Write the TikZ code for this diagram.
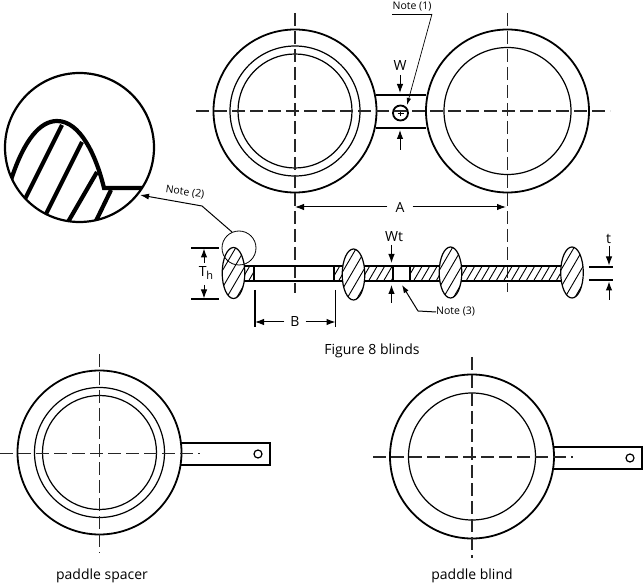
\documentclass[tikz,border=0pt]{standalone}
\usepackage{fontspec}
\setmainfont{Open Sans}
\usetikzlibrary{arrows.meta}
\tikzset{
  thickline/.style={line width=1.8pt},
  thinline/.style={line width=1.2pt},
  centerline/.style={line width=1.2pt,black!85,dash pattern=on 13pt off 5pt},
  hatchline/.style={line width=0.9pt},
  dimarrow/.style={line width=1pt,-{Latex[length=9pt,width=6.5pt]}},
  label/.style={inner sep=0pt,font=\fontsize{14}{15}\selectfont},
  smalllabel/.style={inner sep=0pt,font=\fontsize{10.5}{11}\selectfont},
  detailline/.style={line width=4.2pt}
}
% 剖面线
\newcommand{\hatchband}[2]{%
  \begin{scope}
    \clip (#1,266) rectangle (#2,281);
    \foreach \hx in {200,207.5,...,620} \draw[hatchline] (\hx,300) -- ++(32,-55);
  \end{scope}}
\newcommand{\hatchoval}[2]{%
  \fill[white] (#1,#2) ellipse (11.3 and 25.5);
  \begin{scope}
    \clip (#1,#2) ellipse (11.3 and 25.5);
    \foreach \hx in {-50,-40,...,10} \draw[hatchline] (#1+\hx,#2+30) -- ++(35,-60);
  \end{scope}
  \draw[thinline] (#1,#2) ellipse (11.3 and 25.5);}
\begin{document}
\begin{tikzpicture}[x=1pt,y=-1pt]
  \useasboundingbox (0,0) rectangle (643,585);
  % 上方两个法兰
  \draw[thickline] (295,111) circle (81.5);
  \draw[thinline] (295,111) circle (65);
  \draw[thinline] (295,111) circle (57);
  \draw[thickline] (507.5,111) circle (81.5);
  \draw[thinline] (507.5,111) circle (63.5);
  \draw[thickline] (376,95) -- (426,95);
  \draw[thickline] (376,128) -- (426,128);
  \draw[thickline] (400.5,113) circle (7.5);
  \draw[line width=0.5pt] (397.5,113) -- (403.5,113) (400.5,110) -- (400.5,116);
  % 中心线
  \draw[centerline] (196,111) -- (610,111);
  \draw[centerline] (295,13) -- (295,293);
  \draw[centerline] (507.5,13) -- (507.5,292);
  % 尺寸 W 与 Note (1)
  \node[label] (dimW) at (400,66) {W};
  \draw[dimarrow] (400,75) -- (400,93);
  \draw[dimarrow] (400,150) -- (400,130);
  \node[smalllabel] (noteOne) at (412,7) {Note (1)};
  \draw[line width=0.7pt] (392,14) -- (432,14);
  \draw[line width=0.7pt,-{Latex[length=7pt,width=4.5pt]}] (432,14) -- (407,105);
  % 剖面
  \hatchband{240}{254}
  \hatchband{334}{350}
  \hatchband{360}{393}
  \hatchband{410}{445}
  \hatchband{455}{565}
  \draw[thickline] (240,266) -- (350,266) (240,281) -- (350,281);
  \draw[thickline] (360,266) -- (445,266) (360,281) -- (445,281);
  \draw[thickline] (455,266) -- (565,266) (455,281) -- (565,281);
  \draw[thickline] (254,266) -- (254,281) (334,266) -- (334,281);
  \draw[thinline] (393,266) -- (393,281) (410,266) -- (410,281);
  \hatchoval{233.5}{273}
  \hatchoval{353.5}{274.5}
  \hatchoval{450.5}{272.5}
  \hatchoval{572}{272.5}
  \draw[line width=0.8pt] (239,248) circle (17);
  % 尺寸 A, B, Th, Wt, t
  \node[label] (dimA) at (400,207) {A};
  \draw[dimarrow] (dimA.west) ++(-8,0) -- (295,207);
  \draw[dimarrow] (dimA.east) ++(8,0) -- (506,207);
  \node[label] (dimB) at (295,322) {B};
  \draw[dimarrow] (dimB.west) ++(-6,0) -- (255,322);
  \draw[dimarrow] (dimB.east) ++(6,0) -- (335.5,322);
  \draw[thinline] (255,290) -- (255,327);
  \draw[thinline] (335.5,290) -- (335.5,327);
  \node[label] (dimTh) at (206,273) {T\raisebox{-2.5pt}{\fontsize{11}{12}\selectfont h}};
  \draw[thinline] (191,248) -- (219,248);
  \draw[thinline] (191,299) -- (219,299);
  \draw[dimarrow] (204,263) -- (204,248.5);
  \draw[dimarrow] (204,285) -- (204,298.5);
  \node[label] (dimWt) at (394,237) {Wt};
  \draw[dimarrow] (391.5,245) -- (391.5,263);
  \draw[dimarrow] (391.5,303) -- (391.5,285);
  \node[label] (dimt) at (608.5,239) {t};
  \draw[dimarrow] (609,246) -- (609,265.5);
  \draw[dimarrow] (609,300) -- (609,281.5);
  \draw[thinline] (589,267) -- (613,267);
  \draw[thinline] (589,280) -- (613,280);
  % Note (3)
  \node[smalllabel,anchor=west] (noteThree) at (436,312) {Note (3)};
  \draw[line width=1pt,-{Latex[length=8pt,width=5.5pt]}] (noteThree.west) -- (418,311) -- (402,285);
  \node[label] (figEight) at (372,351) {Figure 8 blinds};
  % 局部放大
  \begin{scope}
    \clip (79.5,147.5) circle (74.5);
    \draw[detailline] (11,180) .. controls (24,140) and (40,121) .. (57,121) .. controls (80,121) and (96,155) .. (104,188) -- (145,188);
    \draw[detailline] (62,125) -- (24,201);
    \draw[detailline] (82,142) -- (44,218);
    \draw[detailline] (97,172) -- (68,222);
    \draw[detailline] (111,190) -- (95,223);
  \end{scope}
  \draw[line width=2.2pt] (79.5,147.5) circle (74.5);
  \node[smalllabel,rotate=-8] (noteTwo) at (185,192.5) {Note (2)};
  \draw[line width=1pt,-{Latex[length=9pt,width=6pt]}] (232,232) -- (202,206) -- (140,195);
  % paddle spacer
  \draw[thickline] (99.5,452.5) circle (82);
  \draw[thinline] (99.5,452.5) circle (65);
  \draw[thinline] (99.5,452.5) circle (57);
  \draw[line width=2pt] (181,443) -- (270,443) -- (270,465) -- (181,465);
  \draw[thinline] (258,454) circle (4);
  \draw[centerline] (0,453.5) -- (200,453.5);
  \draw[centerline] (99.5,354) -- (99.5,553);
  \node[label] (spacerText) at (102,576) {paddle spacer};
  % paddle blind
  \draw[thickline] (472,456.5) circle (82);
  \draw[thinline] (472,456.5) circle (63.5);
  \draw[line width=2pt] (553,447) -- (642,447) -- (642,469) -- (553,469);
  \draw[thinline] (630,458) circle (4);
  \draw[centerline] (373,457) -- (573,457);
  \draw[centerline] (472,357) -- (472,558);
  \node[label] (blindText) at (472,576) {paddle blind};
\end{tikzpicture}
\end{document}
